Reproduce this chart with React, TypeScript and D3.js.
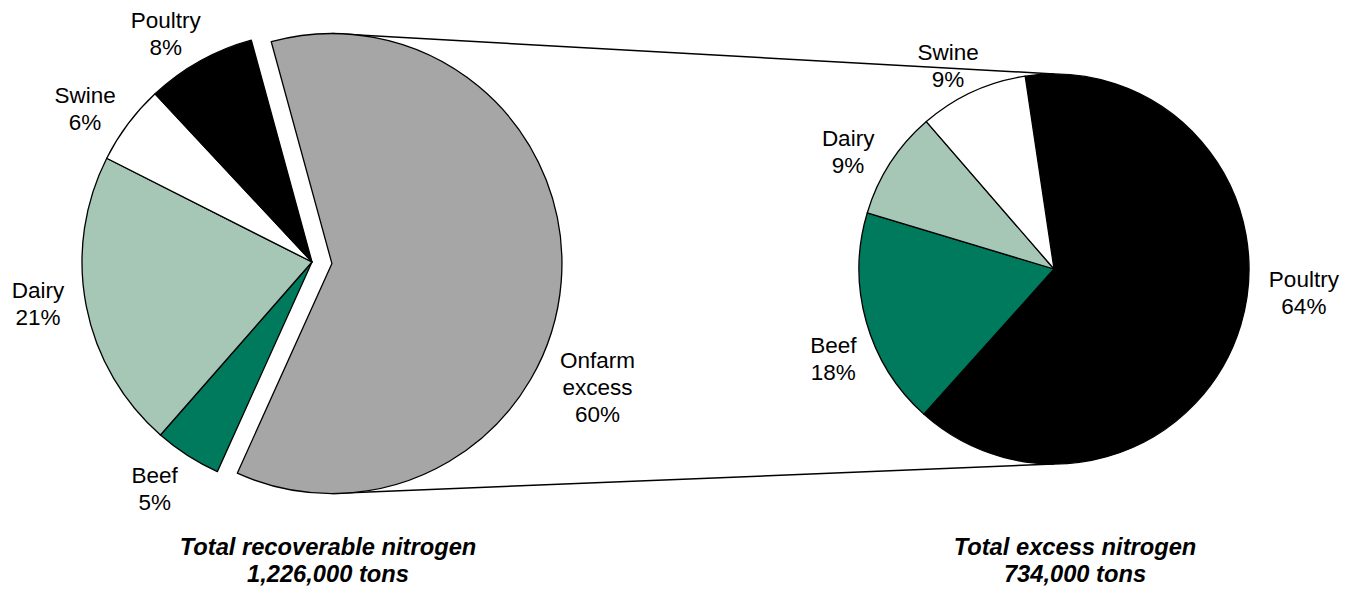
import * as d3 from "d3";
import React from "react";

// recoverable nitrogen split (left pie) and where the excess comes from (right pie)
const leftNames = ["Onfarm excess", "Beef", "Dairy", "Swine", "Poultry"];
const leftValues = [61, 4.7, 21, 5.6, 7.7];
const leftPct = ["60%", "5%", "21%", "6%", "8%"];
const rightNames = ["Poultry", "Beef", "Dairy", "Swine"];
const rightValues = [64, 18, 9, 9];
const rightPct = ["64%", "18%", "9%", "9%"];
const leftTitle = ["Total recoverable nitrogen", "1,226,000 tons"];
const rightTitle = ["Total excess nitrogen", "734,000 tons"];

const COLORS: Record<string, string> = {
  "Onfarm excess": "#a6a6a6",
  Beef: "#007a5c",
  Dairy: "#a6c6b6",
  Swine: "#ffffff",
  Poultry: "#000000",
};

const W = 1354;
const H = 592;
const FONT = "'Liberation Sans', Arial, sans-serif";
const LINE = 27;

const LEFT = { cx: 312, cy: 262, r: 230, start: -15.3, explode: 20 };
const RIGHT = { cx: 1054, cy: 269, r: 195, start: -8.5 };

// label tweak: [angle nudge in degrees, distance beyond the rim]
const labelTweak: Record<string, [number, number]> = {
  "L:Onfarm excess": [20.5, 63],
  "L:Beef": [2, 46],
  "L:Dairy": [2.4, 47],
  "L:Swine": [-2.8, 44],
  "L:Poultry": [-3.5, 41],
  "R:Poultry": [-11.3, 56],
  "R:Beef": [-6.3, 43],
  "R:Dairy": [-3.2, 42],
  "R:Swine": [-2.8, 34.5],
};

const rad = (deg: number) => (deg * Math.PI) / 180;

interface Slice {
  name: string;
  value: number;
  pct: string;
}

const makePie = (startDeg: number) =>
  d3
    .pie<Slice>()
    .sort(null)
    .value((d) => d.value)
    .startAngle(rad(startDeg))
    .endAngle(rad(startDeg + 360));

const Label: React.FC<{ x: number; y: number; lines: string[]; bold?: boolean }> = ({
  x,
  y,
  lines,
  bold,
}) => {
  // y is the visual middle of the block
  const first = y - ((lines.length - 1) * LINE - 16) / 2;
  return (
    <text
      x={x}
      y={first}
      textAnchor="middle"
      fontFamily={FONT}
      fontSize={bold ? 23.7 : 22.5}
      fontWeight={bold ? "bold" : "normal"}
      fontStyle={bold ? "italic" : "normal"}
      fill="#000"
    >
      {lines.map((l, i) => (
        <tspan key={i} x={x} dy={i === 0 ? 0 : LINE}>
          {l}
        </tspan>
      ))}
    </text>
  );
};

const App: React.FC = () => {
  const leftData: Slice[] = leftNames.map((name, i) => ({
    name,
    value: leftValues[i],
    pct: leftPct[i],
  }));
  const rightData: Slice[] = rightNames.map((name, i) => ({
    name,
    value: rightValues[i],
    pct: rightPct[i],
  }));

  const leftArcs = makePie(LEFT.start)(leftData);
  const rightArcs = makePie(RIGHT.start)(rightData);

  const leftArc = d3.arc<d3.PieArcDatum<Slice>>().innerRadius(0).outerRadius(LEFT.r);
  const rightArc = d3.arc<d3.PieArcDatum<Slice>>().innerRadius(0).outerRadius(RIGHT.r);

  const mid = (a: d3.PieArcDatum<Slice>) => (a.startAngle + a.endAngle) / 2;

  // the exploded slice
  const gray = leftArcs[0];
  const gm = mid(gray);
  const off = { x: Math.sin(gm) * LEFT.explode, y: -Math.cos(gm) * LEFT.explode };
  const gcx = LEFT.cx + off.x;
  const gcy = LEFT.cy + off.y;

  const labelPos = (
    side: string,
    a: d3.PieArcDatum<Slice>,
    cx: number,
    cy: number,
    r: number
  ) => {
    const [nudge, extra] = labelTweak[`${side}:${a.data.name}`] || [0, 40];
    const ang = mid(a) + rad(nudge);
    const d = r + extra;
    return { x: cx + Math.sin(ang) * d, y: cy - Math.cos(ang) * d };
  };

  return (
    <svg
      width={W}
      height={H}
      style={{ position: "absolute", left: 0, top: 0, background: "#fff" }}
    >
      {/* connector lines from the exploded slice to the breakdown pie */}
      <line
        x1={gcx}
        y1={gcy - LEFT.r}
        x2={RIGHT.cx}
        y2={RIGHT.cy - RIGHT.r}
        stroke="#000"
        strokeWidth={1.5}
      />
      <line
        x1={gcx}
        y1={gcy + LEFT.r}
        x2={RIGHT.cx}
        y2={RIGHT.cy + RIGHT.r}
        stroke="#000"
        strokeWidth={1.5}
      />

      <g>
        {leftArcs.map((a, i) => {
          const tx = i === 0 ? gcx : LEFT.cx;
          const ty = i === 0 ? gcy : LEFT.cy;
          return (
            <path
              key={a.data.name}
              d={leftArc(a) || ""}
              transform={`translate(${tx},${ty})`}
              fill={COLORS[a.data.name]}
              stroke="#000"
              strokeWidth={1.3}
              strokeLinejoin="round"
            />
          );
        })}
      </g>

      <g transform={`translate(${RIGHT.cx},${RIGHT.cy})`}>
        {rightArcs.map((a) => (
          <path
            key={a.data.name}
            d={rightArc(a) || ""}
            fill={COLORS[a.data.name]}
            stroke="#000"
            strokeWidth={1.3}
            strokeLinejoin="round"
          />
        ))}
      </g>

      {leftArcs.map((a, i) => {
        const p =
          i === 0
            ? labelPos("L", a, gcx, gcy, LEFT.r)
            : labelPos("L", a, LEFT.cx, LEFT.cy, LEFT.r);
        return (
          <Label
            key={a.data.name}
            x={p.x}
            y={p.y}
            lines={[...a.data.name.split(" "), a.data.pct]}
          />
        );
      })}

      {rightArcs.map((a) => {
        const p = labelPos("R", a, RIGHT.cx, RIGHT.cy, RIGHT.r);
        return (
          <Label
            key={a.data.name}
            x={p.x}
            y={p.y}
            lines={[...a.data.name.split(" "), a.data.pct]}
          />
        );
      })}

      <Label x={328} y={560} lines={leftTitle} bold />
      <Label x={1075} y={560} lines={rightTitle} bold />
    </svg>
  );
};

export default App;
